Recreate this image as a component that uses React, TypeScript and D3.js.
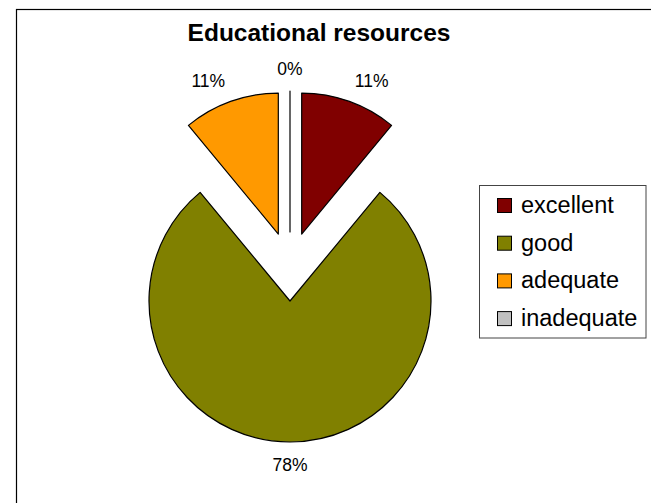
import React, { useEffect, useRef } from 'react';
import * as d3 from 'd3';

const categories = ['excellent', 'good', 'adequate', 'inadequate'];
const values = [11, 78, 11, 0];
const colors = ['#800000', '#808000', '#FF9900', '#C0C0C0'];
const title = 'Educational resources';

const FONT = '"Liberation Sans", Arial, sans-serif';

const App: React.FC = () => {
  const ref = useRef<SVGSVGElement>(null);

  useEffect(() => {
    if (!ref.current) return;
    const svg = d3.select(ref.current);
    svg.selectAll('*').remove();

    const width = 651;
    const height = 503;

    svg.append('rect')
      .attr('width', width)
      .attr('height', height)
      .attr('fill', '#fff');

    // chart area border (runs off the right and bottom edges)
    svg.append('rect')
      .attr('x', 16.5)
      .attr('y', 9.5)
      .attr('width', 700)
      .attr('height', 600)
      .attr('fill', 'none')
      .attr('stroke', '#000')
      .attr('stroke-width', 1.2);

    svg.append('text')
      .attr('x', 319)
      .attr('y', 41)
      .attr('text-anchor', 'middle')
      .style('font-family', FONT)
      .style('font-size', '24.5px')
      .style('font-weight', 'bold')
      .text(title);

    const cx = 290;
    const cy = 266.5;
    const radius = 141;
    const explode = 34.5;
    const labelR = 157;

    const data = categories.map((c, i) => ({ name: c, value: values[i], color: colors[i] }));
    const pie = d3.pie<any>().sort(null).value(d => d.value);
    const arc = d3.arc<any>().innerRadius(0).outerRadius(radius);
    const arcs = pie(data);

    const g = svg.append('g').attr('transform', `translate(${cx},${cy})`);

    const offset = (a: any) => {
      const mid = (a.startAngle + a.endAngle) / 2;
      return [Math.sin(mid), -Math.cos(mid)];
    };

    g.selectAll('.slice')
      .data(arcs)
      .enter().append('path')
      .attr('class', 'slice')
      .attr('d', arc)
      .attr('transform', d => {
        const [dx, dy] = offset(d);
        return `translate(${dx * explode},${dy * explode})`;
      })
      .attr('fill', d => d.data.color)
      .attr('stroke', '#000')
      .attr('stroke-width', 1.2)
      .attr('stroke-linejoin', 'round');

    // percentage labels
    g.selectAll('.lbl')
      .data(arcs)
      .enter().append('text')
      .attr('class', 'lbl')
      .attr('x', d => {
        const [dx] = offset(d);
        return dx * (explode + labelR);
      })
      .attr('y', d => {
        const [, dy] = offset(d);
        return dy * (explode + labelR) + dy * 6.5;
      })
      .attr('dy', '0.36em')
      .attr('text-anchor', d => {
        const [dx] = offset(d);
        return dx > 0.01 ? 'start' : dx < -0.01 ? 'end' : 'middle';
      })
      .style('font-family', FONT)
      .style('font-size', '17.5px')
      .attr('fill', '#000')
      .text(d => `${d.data.value}%`);

    // legend
    const legend = svg.append('g');
    legend.append('rect')
      .attr('x', 479.5)
      .attr('y', 185.5)
      .attr('width', 166.5)
      .attr('height', 152.5)
      .attr('fill', '#fff')
      .attr('stroke', '#444')
      .attr('stroke-width', 1);

    const rows = legend.selectAll('.row')
      .data(data)
      .enter().append('g')
      .attr('class', 'row')
      .attr('transform', (_d, i) => `translate(0,${i * 37.7})`);

    rows.append('rect')
      .attr('x', 497.5)
      .attr('y', 198.5)
      .attr('width', 14)
      .attr('height', 14)
      .attr('fill', d => d.color)
      .attr('stroke', '#000')
      .attr('stroke-width', 1);

    rows.append('text')
      .attr('x', 521)
      .attr('y', 213)
      .style('font-family', FONT)
      .style('font-size', '23.5px')
      .attr('fill', '#000')
      .text(d => d.name);
  }, []);

  return (
    <svg
      ref={ref}
      width={651}
      height={503}
      style={{ position: 'absolute', left: 0, top: 0 }}
    />
  );
};

export default App;
